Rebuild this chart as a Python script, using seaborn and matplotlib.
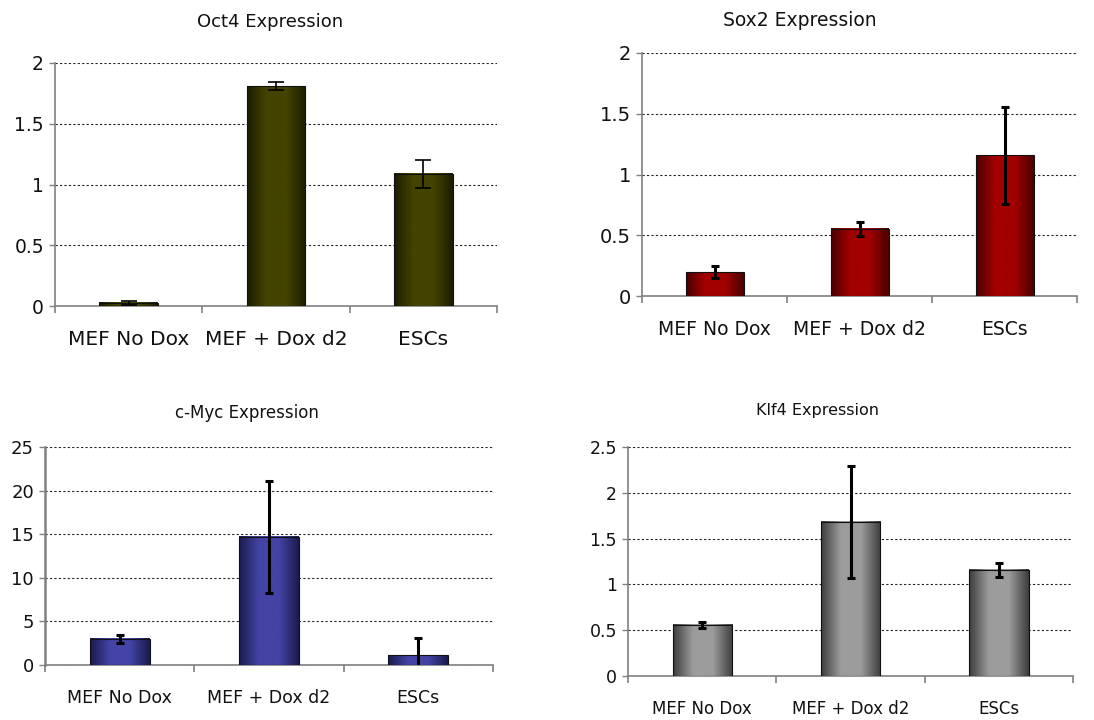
import numpy as np
import pandas as pd
import seaborn as sns
import matplotlib.pyplot as plt
from matplotlib.colors import LinearSegmentedColormap
from matplotlib.ticker import FixedLocator

# categories and values
groups = ["MEF No Dox", "MEF + Dox d2", "ESCs"]

oct4_mean = [0.025, 1.81, 1.09]
oct4_err = [0.013, 0.034, 0.115]

sox2_mean = [0.195, 0.552, 1.157]
sox2_err = [0.050, 0.056, 0.400]

cmyc_mean = [3.0, 14.7, 1.1]
cmyc_err = [0.42, 6.45, 1.95]

klf4_mean = [0.557, 1.685, 1.161]
klf4_err = [0.030, 0.610, 0.076]

sns.set_theme(style="white")
plt.rcParams['font.family'] = ['DejaVu Sans']

W, H = 1094, 720
fig = plt.figure(figsize=(W / 100, H / 100), dpi=100)


def box(left, right, top, bottom):
    return [left / W, 1 - bottom / H, (right - left) / W, (bottom - top) / H]


panels = [
    # title, means, errors, ylim, yticks, axes box, title pos, edge/center colours, font sizes, err lw
    dict(title="Oct4 Expression", mean=oct4_mean, err=oct4_err, ymax=2, step=0.5,
         box=box(55, 497, 63, 306), tpos=(270, 22), edge="#1c1c00", mid="#444400",
         tfs=13, yfs=13.5, xfs=14.5, elw=1.2, cap=6, pad=17, slw=1.2),
    dict(title="Sox2 Expression", mean=sox2_mean, err=sox2_err, ymax=2, step=0.5,
         box=box(642, 1077, 53, 296), tpos=(800, 20), edge="#4a0000", mid="#a30000",
         tfs=13.5, yfs=14, xfs=13.5, elw=2.2, cap=3, pad=17, slw=1.2),
    dict(title="c-Myc Expression", mean=cmyc_mean, err=cmyc_err, ymax=25, step=5,
         box=box(45, 493, 447, 665), tpos=(247, 413), edge="#1a1a4e", mid="#4444a6",
         tfs=12, yfs=13, xfs=12.5, elw=2.2, cap=3, pad=17, slw=1.8),
    dict(title="Klf4 Expression", mean=klf4_mean, err=klf4_err, ymax=2.5, step=0.5,
         box=box(628, 1073, 447, 676), tpos=(818, 410), edge="#3c3c3c", mid="#9c9c9c",
         tfs=11.5, yfs=12.5, xfs=12, elw=2.2, cap=3, pad=17, slw=1.2),
]

for p in panels:
    ax = fig.add_axes(p["box"])
    df = pd.DataFrame({"group": groups, "value": p["mean"]})
    sns.barplot(data=df, x="group", y="value", ax=ax, color=p["mid"], width=0.4,
                edgecolor="#111111", linewidth=0.8, errorbar=None, zorder=3)

    # shaded look of the bars
    cmap = LinearSegmentedColormap.from_list("shade", [p["edge"], p["mid"], p["mid"], p["edge"]])
    grad = np.linspace(0, 1, 256).reshape(1, -1)
    for patch in ax.patches:
        x0, y0 = patch.get_x(), patch.get_y()
        ax.imshow(grad, cmap=cmap, aspect="auto", zorder=3.1,
                  extent=[x0, x0 + patch.get_width(), y0, y0 + patch.get_height()],
                  clip_path=patch, clip_on=True)
        patch.set_facecolor("none")
        patch.set_zorder(3.2)

    ax.errorbar(range(len(groups)), p["mean"], yerr=p["err"], fmt="none",
                ecolor="black", elinewidth=p["elw"], capsize=p["cap"],
                capthick=p["elw"], zorder=5)

    ax.set_xlim(-0.5, 2.5)
    ax.set_ylim(0, p["ymax"])
    ax.set_yticks(np.arange(0, p["ymax"] + 0.001, p["step"]))
    ax.set_yticklabels([f"{v:g}" for v in np.arange(0, p["ymax"] + 0.001, p["step"])])
    ax.set_xlabel("")
    ax.set_ylabel("")

    ax.yaxis.grid(True, linestyle=(0, (2, 2)), color="#222222", linewidth=0.8)
    ax.xaxis.grid(False)
    ax.set_axisbelow(True)

    for s in ["top", "right"]:
        ax.spines[s].set_visible(False)
    ax.spines["left"].set_color("#808080")
    ax.spines["left"].set_linewidth(p["slw"])
    ax.spines["bottom"].set_color("#808080")
    ax.spines["bottom"].set_linewidth(1.2)

    ax.xaxis.set_minor_locator(FixedLocator([-0.5, 0.5, 1.5, 2.5]))
    ax.tick_params(axis="x", which="major", length=0, pad=p["pad"], labelsize=p["xfs"], labelcolor="#111111")
    ax.tick_params(axis="x", which="minor", length=5, width=1.2, color="#808080", direction="out", bottom=True)
    ax.tick_params(axis="y", which="major", length=4, width=1, color="#808080", direction="out",
                   left=True, pad=4, labelsize=p["yfs"], labelcolor="#111111")

    fig.text(p["tpos"][0] / W, 1 - p["tpos"][1] / H, p["title"], ha="center", va="center",
             fontsize=p["tfs"], color="#111111")

fig.savefig("out.png", dpi=100)
